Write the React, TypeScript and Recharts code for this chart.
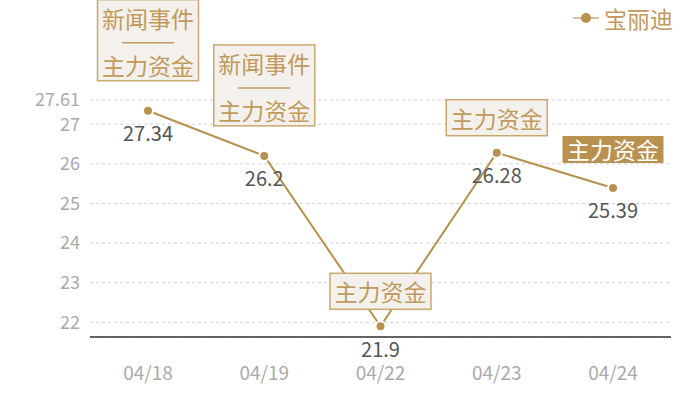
import React from 'react'
import {
  LineChart,
  Line,
  XAxis,
  YAxis,
  CartesianGrid,
  LabelList,
} from 'recharts'

// ─── Data ─────────────────────────────────────────────────────────────────────

const dates = ['04/18', '04/19', '04/22', '04/23', '04/24']
const prices = [27.34, 26.2, 21.9, 26.28, 25.39]
const eventNotes = ['新闻事件', '新闻事件', '', '', '']
const fundNotes = ['主力资金', '主力资金', '主力资金', '主力资金', '主力资金']
const highlighted = [false, false, false, false, true]
const yTicks = [22, 23, 24, 25, 26, 27, 27.61]
const yDomain = [21.63, 27.61]
const seriesName = '宝丽迪'

// ─── Palette ──────────────────────────────────────────────────────────────────

const GOLD = '#b8914f'
const GOLD_TEXT = '#c09a5c'
const BOX_BG = '#f4f1ec'
const BOX_BORDER = '#c8a86f'
const FONT = '"Noto Sans CJK SC", "Noto Sans", sans-serif'

const data = dates.map((date, i) => ({
  date,
  price: prices[i],
  event: eventNotes[i],
  fund: fundNotes[i],
  hot: highlighted[i],
}))

// ─── Labels ───────────────────────────────────────────────────────────────────

function ValueLabel(props: any) {
  const { x, y, value } = props
  return (
    <text
      x={x}
      y={y + 22}
      textAnchor="middle"
      dominantBaseline="central"
      fill="#555"
      fontSize={20}
    >
      {value}
    </text>
  )
}

function NoteLabel(props: any) {
  const { x, y, index } = props
  const row = data[index]
  const w = 101
  const left = x - w / 2
  const fs = 23

  if (row.event) {
    const h = 81
    const top = y - 30 - h
    return (
      <g>
        <rect x={left} y={top} width={w} height={h} fill={BOX_BG} stroke={BOX_BORDER} strokeWidth={1.5} />
        <text x={x} y={top + 18} textAnchor="middle" dominantBaseline="central" fill={GOLD_TEXT} fontSize={fs}>
          {row.event}
        </text>
        <line x1={x - 26} x2={x + 26} y1={top + 43} y2={top + 43} stroke={GOLD_TEXT} strokeWidth={1.5} />
        <text x={x} y={top + 65} textAnchor="middle" dominantBaseline="central" fill={GOLD_TEXT} fontSize={fs}>
          {row.fund}
        </text>
      </g>
    )
  }

  if (row.hot) {
    const h = 27
    const top = y - 25 - h
    return (
      <g>
        <rect x={left} y={top} width={w} height={h} fill={GOLD} />
        <text x={x} y={top + h / 2} textAnchor="middle" dominantBaseline="central" fill="#fff" fontSize={fs}>
          {row.fund}
        </text>
      </g>
    )
  }

  const h = 36
  const top = y - 17 - h
  return (
    <g>
      <rect x={left} y={top} width={w} height={h} fill={BOX_BG} stroke={BOX_BORDER} strokeWidth={1.5} />
      <text x={x} y={top + h / 2} textAnchor="middle" dominantBaseline="central" fill={GOLD_TEXT} fontSize={fs}>
        {row.fund}
      </text>
    </g>
  )
}

function ChartLegend() {
  return (
    <div
      style={{
        position: 'absolute',
        top: 5,
        right: 27,
        display: 'flex',
        alignItems: 'center',
        gap: 5,
      }}
    >
      <svg width={26} height={12}>
        <line x1={0} x2={26} y1={6} y2={6} stroke="#d6c09a" strokeWidth={2} />
        <circle cx={13} cy={6} r={5} fill={GOLD} />
      </svg>
      <span style={{ color: GOLD_TEXT, fontSize: 23, lineHeight: '26px' }}>{seriesName}</span>
    </div>
  )
}

// ─── Component ────────────────────────────────────────────────────────────────

export default function App() {
  return (
    <div style={{ position: 'fixed', top: 0, left: 0, width: 700, height: 400, background: '#fff', fontFamily: FONT }}>
      <LineChart
        width={700}
        height={400}
        data={data}
        margin={{ top: 100, right: 29, bottom: 0, left: 0 }}
        style={{ overflow: 'visible' }}
      >
        <CartesianGrid vertical={false} stroke="#d0d0d0" strokeDasharray="3 3" />
        <XAxis
          dataKey="date"
          height={63}
          padding={{ left: 58, right: 58 }}
          tickLine={false}
          axisLine={{ stroke: '#333', strokeWidth: 1.5 }}
          tick={{ fill: '#aaa', fontSize: 19 }}
          tickMargin={24}
        />
        <YAxis
          width={90}
          domain={yDomain}
          ticks={yTicks}
          interval={0}
          allowDataOverflow
          tickLine={false}
          axisLine={false}
          tick={{ fill: '#aaa', fontSize: 18 }}
          tickMargin={4}
        />
        <Line
          type="linear"
          dataKey="price"
          name={seriesName}
          stroke={GOLD}
          strokeWidth={2}
          dot={{ r: 5, fill: GOLD, stroke: '#fff', strokeWidth: 2, fillOpacity: 1 }}
          activeDot={false}
          isAnimationActive={false}
        >
          <LabelList dataKey="price" content={ValueLabel} />
          <LabelList dataKey="fund" content={NoteLabel} />
        </Line>
      </LineChart>
      <ChartLegend />
    </div>
  )
}
